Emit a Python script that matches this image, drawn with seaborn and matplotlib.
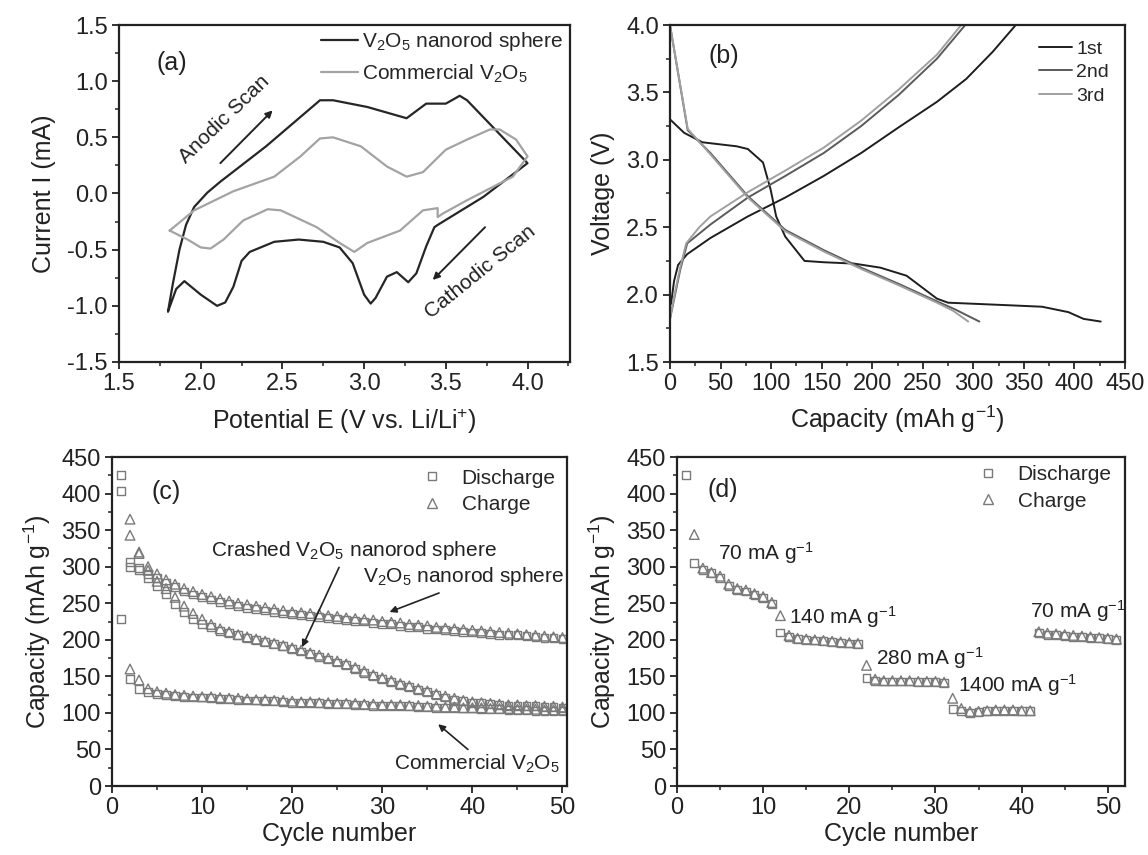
import matplotlib
matplotlib.use("Agg")
import matplotlib.pyplot as plt
import seaborn as sns
from matplotlib.lines import Line2D
from matplotlib.ticker import MultipleLocator

sns.set_theme(style="ticks")
plt.rcParams['font.family'] = ['Liberation Sans', 'DejaVu Sans']
plt.rcParams['mathtext.fontset'] = 'custom'
plt.rcParams['mathtext.rm'] = 'Liberation Sans'
plt.rcParams['mathtext.it'] = 'Liberation Sans:italic'
plt.rcParams['mathtext.bf'] = 'Liberation Sans:bold'
plt.rcParams['axes.unicode_minus'] = False

# ==== (a) cyclic voltammetry ====
cv_rod_E = [1.80, 1.83, 1.87, 1.91, 1.96, 2.04, 2.12, 2.40, 2.73, 2.81, 3.02, 3.26, 3.38, 3.50, 3.585, 3.63, 4.00,
            3.73, 3.45, 3.43, 3.38, 3.32, 3.27, 3.20, 3.14, 3.07, 3.04, 3.00, 2.93, 2.85, 2.75, 2.60, 2.45,
            2.30, 2.25, 2.20, 2.15, 2.10, 2.00, 1.90, 1.85, 1.80]
cv_rod_I = [-1.05, -0.80, -0.50, -0.28, -0.12, 0.007, 0.105, 0.42, 0.83, 0.83, 0.77, 0.67, 0.80, 0.80, 0.87, 0.83, 0.27,
            -0.03, -0.28, -0.30, -0.47, -0.71, -0.79, -0.70, -0.74, -0.93, -0.98, -0.90, -0.62, -0.48, -0.43, -0.41, -0.43,
            -0.52, -0.60, -0.83, -0.97, -1.00, -0.90, -0.78, -0.85, -1.05]
cv_com_E = [1.81, 1.96, 2.20, 2.45, 2.61, 2.73, 2.81, 2.98, 3.14, 3.26, 3.36, 3.50, 3.63, 3.77, 3.83, 3.93, 4.00,
            3.91, 3.63, 3.48, 3.45, 3.45, 3.36, 3.22, 3.02, 2.94, 2.85, 2.71, 2.49, 2.41, 2.26, 2.14, 2.06,
            2.00, 1.92, 1.81]
cv_com_I = [-0.33, -0.15, 0.02, 0.15, 0.33, 0.49, 0.50, 0.42, 0.24, 0.15, 0.19, 0.39, 0.48, 0.57, 0.57, 0.48, 0.33,
            0.15, -0.06, -0.18, -0.21, -0.13, -0.15, -0.33, -0.44, -0.52, -0.44, -0.30, -0.15, -0.14, -0.24, -0.41, -0.49,
            -0.48, -0.41, -0.33]

# ==== (b) charge / discharge profiles ====
c1_dis = [0, 14, 32, 66, 77, 92, 99.5, 105, 114, 133, 152, 182, 208, 234, 264, 275, 338, 368, 394, 409, 426]
v1_dis = [3.30, 3.20, 3.13, 3.10, 3.08, 2.98, 2.78, 2.58, 2.43, 2.25, 2.24, 2.23, 2.20, 2.14, 1.97, 1.94, 1.92, 1.91, 1.87, 1.82, 1.80]
c1_chg = [1, 4, 8, 17, 40, 77, 114, 152, 189, 226, 264, 293, 319, 342]
v1_chg = [1.93, 2.10, 2.22, 2.30, 2.42, 2.58, 2.72, 2.88, 3.05, 3.24, 3.43, 3.60, 3.80, 4.00]
c2_dis = [0, 17.5, 40, 77, 114, 152, 189, 226, 264, 282, 306]
v2_dis = [4.00, 3.22, 3.05, 2.73, 2.48, 2.33, 2.20, 2.08, 1.95, 1.89, 1.80]
c2_chg = [0, 5, 10, 17, 40, 77, 114, 152, 189, 226, 264, 292]
v2_chg = [1.82, 2.00, 2.18, 2.38, 2.52, 2.72, 2.88, 3.05, 3.25, 3.48, 3.75, 4.00]
c3_dis = [0, 17.5, 40, 77, 114, 152, 189, 226, 264, 280, 295]
v3_dis = [4.00, 3.23, 3.04, 2.72, 2.47, 2.32, 2.19, 2.07, 1.94, 1.88, 1.80]
c3_chg = [0, 5, 10, 16, 29, 40, 77, 114, 152, 189, 226, 264, 288]
v3_chg = [1.82, 2.02, 2.20, 2.38, 2.50, 2.58, 2.76, 2.92, 3.09, 3.29, 3.52, 3.78, 4.00]

# ==== (c) cycling, discharge at cycles 1..50, charge at 2..50 ====
cyc_dis = list(range(1, 51))
cyc_chg = list(range(2, 51))
rod_dis = [425, 306, 298, 290, 284, 278, 272, 266, 262, 258, 255, 252, 249, 246, 244, 242, 240, 238, 236, 235,
           234, 233, 231, 230, 228, 227, 226, 225, 223, 222, 221, 219, 218, 217, 215, 214, 213, 212, 211, 210,
           209, 208, 207, 206, 206, 205, 204, 203, 202, 201]
rod_chg = [343, 318, 300, 290, 282, 276, 270, 266, 262, 259, 256, 253, 250, 248, 246, 244, 242, 240, 238, 237,
           236, 235, 233, 232, 230, 229, 228, 227, 225, 224, 223, 221, 220, 219, 217, 216, 215, 214, 213, 212,
           211, 210, 209, 208, 207, 206, 205, 204, 203]
crash_dis = [404, 300, 296, 285, 274, 263, 249, 238, 228, 222, 217, 212, 209, 206, 203, 200, 197, 194, 191, 187,
             184, 180, 177, 173, 169, 165, 160, 155, 150, 146, 142, 138, 135, 131, 128, 125, 121, 118, 116, 114,
             113, 112, 111, 110, 110, 109, 109, 108, 108, 107]
crash_chg = [365, 320, 295, 280, 270, 258, 246, 236, 228, 221, 215, 211, 207, 204, 201, 198, 195, 192, 189, 186,
             182, 179, 175, 171, 167, 162, 157, 152, 148, 144, 140, 137, 133, 130, 126, 123, 120, 117, 115, 114,
             113, 112, 111, 111, 110, 110, 109, 109, 108]
com_dis = [228, 146, 133, 128, 126, 124, 123, 122, 121, 121, 120, 119, 119, 118, 117, 117, 116, 116, 115, 114,
           114, 113, 113, 112, 112, 112, 111, 111, 110, 110, 110, 109, 109, 108, 108, 107, 107, 106, 106, 106,
           105, 105, 105, 104, 104, 104, 103, 103, 103, 103]
com_chg = [160, 145, 133, 129, 127, 125, 124, 123, 122, 122, 121, 120, 120, 119, 118, 118, 117, 117, 116, 115,
           115, 114, 114, 113, 113, 113, 112, 112, 111, 111, 111, 110, 110, 109, 109, 108, 108, 107, 107, 107,
           106, 106, 106, 105, 105, 105, 104, 104, 104]

# ==== (d) rate capability, discharge 1..51, charge 2..51 ====
rate_cyc_dis = list(range(1, 52))
rate_cyc_chg = list(range(2, 52))
rate_dis = [425, 305, 296, 291, 285, 274, 268, 266, 261, 257, 249,
            210, 204, 201, 200, 199, 198, 197, 196, 195, 194,
            148, 144, 143, 143, 143, 143, 142, 142, 142, 141,
            105, 103, 100, 101, 102, 103, 103, 103, 102, 102,
            209, 207, 206, 205, 204, 204, 203, 202, 201, 200]
rate_chg = [344, 298, 292, 287, 276, 270, 268, 263, 259, 251,
            233, 206, 202, 201, 200, 199, 198, 197, 196, 195,
            165, 146, 144, 144, 144, 144, 143, 143, 143, 142,
            120, 106, 102, 102, 103, 104, 104, 104, 103, 103,
            211, 209, 208, 207, 206, 205, 204, 203, 202, 201]
rate_labels = ["70 mA g$^{-1}$", "140 mA g$^{-1}$", "280 mA g$^{-1}$", "1400 mA g$^{-1}$", "70 mA g$^{-1}$"]
rate_label_x = [4.75, 13.0, 23.1, 32.6, 41.0]
rate_label_y = [319, 231, 175, 138, 239]

INK = "#222222"
MK = "#7a7a7a"
TICK = 17
LAB = 18
SMALL = 15


def style_axes(ax, xmaj, xmin, ymaj, ymin):
    ax.xaxis.set_major_locator(MultipleLocator(xmaj))
    ax.xaxis.set_minor_locator(MultipleLocator(xmin))
    ax.yaxis.set_major_locator(MultipleLocator(ymaj))
    ax.yaxis.set_minor_locator(MultipleLocator(ymin))
    ax.tick_params(which='both', direction='out', top=False, right=False,
                   colors=INK, labelsize=TICK, pad=3)
    ax.tick_params(which='major', length=5, width=1.3)
    ax.tick_params(which='minor', length=3, width=1.1)
    for sp in ax.spines.values():
        sp.set_visible(True)
        sp.set_linewidth(1.6)
        sp.set_color(INK)
    ax.xaxis.label.set_color(INK)
    ax.yaxis.label.set_color(INK)


def arrow(ax, tail, head, lw=1.4):
    ax.annotate("", xy=head, xytext=tail,
                arrowprops=dict(arrowstyle='-|>', color=INK, lw=lw,
                                mutation_scale=10, shrinkA=0, shrinkB=0))


W, H = 1148, 855
fig = plt.figure(figsize=(W / 100, H / 100), dpi=100)
fig.patch.set_facecolor("white")

ax_a = fig.add_axes([119 / W, 1 - 362 / H, 451 / W, 337 / H])
ax_b = fig.add_axes([670 / W, 1 - 362 / H, 455 / W, 337 / H])
ax_c = fig.add_axes([112 / W, 1 - 786 / H, 455 / W, 329 / H])
ax_d = fig.add_axes([677 / W, 1 - 786 / H, 448 / W, 329 / H])

# --- (a) ---
sns.lineplot(x=cv_rod_E, y=cv_rod_I, sort=False, estimator=None, color="#262626", lw=1.6,
             label="V$_2$O$_5$ nanorod sphere", ax=ax_a)
sns.lineplot(x=cv_com_E, y=cv_com_I, sort=False, estimator=None, color="#a3a3a3", lw=1.6,
             label="Commercial V$_2$O$_5$", ax=ax_a)
ax_a.set_xlim(1.5, 4.26)
ax_a.set_ylim(-1.5, 1.5)
ax_a.set_xlabel("Potential E (V vs. Li/Li$^{+}$)", fontsize=LAB, labelpad=8)
ax_a.set_ylabel("Current I (mA)", fontsize=LAB, labelpad=8)
style_axes(ax_a, 0.5, 0.25, 0.5, 0.25)
ax_a.legend(loc="upper right", bbox_to_anchor=(0.985, 0.985), frameon=False, fontsize=SMALL,
            handlelength=1.8, handletextpad=0.2, labelspacing=0.45, borderpad=0, borderaxespad=0)
ax_a.text(0.116, 0.886, "(a)", transform=ax_a.transAxes, fontsize=LAB, ha="center", va="center", color=INK)
ax_a.text(2.145, 0.665, "Anodic Scan", fontsize=SMALL, rotation=44, ha="center", va="center",
          rotation_mode="anchor", color=INK)
arrow(ax_a, (2.12, 0.27), (2.44, 0.74))
ax_a.text(3.71, -0.70, "Cathodic Scan", fontsize=SMALL, rotation=39, ha="center", va="center",
          rotation_mode="anchor", color=INK)
arrow(ax_a, (3.74, -0.30), (3.42, -0.77))

# --- (b) ---
cyc_colors = ["#1e1e1e", "#5a5a5a", "#a0a0a0"]
for (cd, vd, cc, vc), col, lab in zip(
        [(c1_dis, v1_dis, c1_chg, v1_chg), (c2_dis, v2_dis, c2_chg, v2_chg), (c3_dis, v3_dis, c3_chg, v3_chg)],
        cyc_colors, ["1st", "2nd", "3rd"]):
    sns.lineplot(x=cd, y=vd, sort=False, estimator=None, color=col, lw=1.4, label=lab, ax=ax_b)
    sns.lineplot(x=cc, y=vc, sort=False, estimator=None, color=col, lw=1.4, ax=ax_b)
ax_b.set_xlim(0, 450)
ax_b.set_ylim(1.5, 4.0)
ax_b.set_xlabel("Capacity (mAh g$^{-1}$)", fontsize=LAB, labelpad=6)
ax_b.set_ylabel("Voltage (V)", fontsize=LAB, labelpad=8)
style_axes(ax_b, 50, 25, 0.5, 0.25)
ax_b.legend(loc="upper right", bbox_to_anchor=(0.965, 0.955), frameon=False, fontsize=SMALL - 1,
            handlelength=1.7, handletextpad=0.2, labelspacing=0.3, borderpad=0, borderaxespad=0)
ax_b.text(0.119, 0.908, "(b)", transform=ax_b.transAxes, fontsize=LAB, ha="center", va="center", color=INK)

# --- (c) ---
for dis, chg in [(rod_dis, rod_chg), (crash_dis, crash_chg), (com_dis, com_chg)]:
    sns.scatterplot(x=cyc_dis, y=dis, marker="s", s=32, facecolor="none", edgecolor=MK, linewidth=1.0, ax=ax_c)
    sns.scatterplot(x=cyc_chg, y=chg, marker="^", s=48, facecolor="none", edgecolor=MK, linewidth=1.0, ax=ax_c)
ax_c.set_xlim(0, 50.5)
ax_c.set_ylim(0, 450)
ax_c.set_xlabel("Cycle number", fontsize=LAB, labelpad=2)
ax_c.set_ylabel("Capacity (mAh g$^{-1}$)", fontsize=LAB, labelpad=6)
style_axes(ax_c, 10, 5, 50, 25)
ax_c.text(0.118, 0.893, "(c)", transform=ax_c.transAxes, fontsize=LAB, ha="center", va="center", color=INK)
ax_c.text(26.8, 322, "Crashed V$_2$O$_5$ nanorod sphere", fontsize=SMALL, ha="center", va="center", color=INK)
arrow(ax_c, (25.2, 299), (21.1, 190), lw=1.2)
ax_c.text(39.0, 286, "V$_2$O$_5$ nanorod sphere", fontsize=SMALL, ha="center", va="center", color=INK)
arrow(ax_c, (36.3, 264), (30.8, 238), lw=1.2)
ax_c.text(40.5, 30, "Commercial V$_2$O$_5$", fontsize=SMALL, ha="center", va="center", color=INK)
arrow(ax_c, (39.5, 50), (36.2, 84.5), lw=1.2)

# --- (d) ---
sns.scatterplot(x=rate_cyc_dis, y=rate_dis, marker="s", s=32, facecolor="none", edgecolor=MK, linewidth=1.0, ax=ax_d)
sns.scatterplot(x=rate_cyc_chg, y=rate_chg, marker="^", s=48, facecolor="none", edgecolor=MK, linewidth=1.0, ax=ax_d)
ax_d.set_xlim(0, 52)
ax_d.set_ylim(0, 450)
ax_d.set_xlabel("Cycle number", fontsize=LAB, labelpad=2)
ax_d.set_ylabel("Capacity (mAh g$^{-1}$)", fontsize=LAB, labelpad=6)
style_axes(ax_d, 10, 5, 50, 25)
ax_d.text(0.103, 0.90, "(d)", transform=ax_d.transAxes, fontsize=LAB, ha="center", va="center", color=INK)
for lab, lx, ly in zip(rate_labels, rate_label_x, rate_label_y):
    ax_d.text(lx, ly, lab, fontsize=SMALL, ha="left", va="center", color=INK)

handles = [Line2D([], [], marker="s", ls="", mfc="none", mec=MK, ms=6, mew=1.0),
           Line2D([], [], marker="^", ls="", mfc="none", mec=MK, ms=7, mew=1.0)]
for ax, anchor in [(ax_c, (0.975, 0.965)), (ax_d, (0.97, 0.975))]:
    ax.legend(handles, ["Discharge", "Charge"], loc="upper right", bbox_to_anchor=anchor, frameon=False,
              fontsize=SMALL, handlelength=1.0, handletextpad=0.9, labelspacing=0.35,
              borderpad=0, borderaxespad=0)

fig.savefig("out.png", dpi=100, facecolor="white")
